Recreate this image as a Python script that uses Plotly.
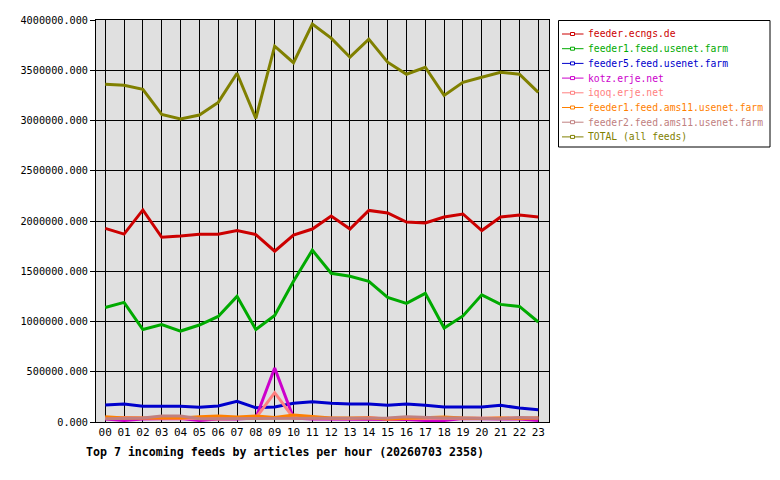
import plotly.graph_objects as go

hours = [f"{h:02d}" for h in range(24)]

feeder_ecngs = [1927000, 1870000, 2110000, 1838000, 1850000, 1868000, 1868000, 1905000, 1865000, 1700000,
                1860000, 1920000, 2050000, 1920000, 2105000, 2080000, 1990000, 1980000, 2040000, 2070000,
                1905000, 2040000, 2060000, 2040000]
feeder1_usenet = [1140000, 1190000, 920000, 970000, 905000, 965000, 1050000, 1250000, 920000, 1060000,
                  1400000, 1710000, 1480000, 1450000, 1400000, 1240000, 1180000, 1280000, 935000, 1055000,
                  1265000, 1170000, 1150000, 995000]
feeder5_usenet = [169000, 179000, 156000, 156000, 156000, 146000, 159000, 206000, 142000, 149000,
                  186000, 202000, 186000, 179000, 179000, 166000, 179000, 166000, 149000, 149000,
                  149000, 166000, 139000, 122000]
kotz_erje = [30000, 15000, 30000, 35000, 35000, 15000, 30000, 30000, 40000, 537000,
             40000, 30000, 30000, 30000, 30000, 30000, 25000, 15000, 15000, 35000,
             30000, 30000, 30000, 15000]
iqoq_erje = [40000, 45000, 40000, 40000, 40000, 35000, 30000, 35000, 40000, 292000,
             40000, 40000, 35000, 35000, 45000, 30000, 35000, 35000, 40000, 35000,
             35000, 35000, 40000, 40000]
feeder1_ams11 = [53000, 40000, 40000, 40000, 40000, 53000, 60000, 50000, 60000, 45000,
                 70000, 55000, 40000, 40000, 40000, 30000, 35000, 45000, 50000, 40000,
                 35000, 40000, 35000, 40000]
feeder2_ams11 = [33000, 33000, 40000, 60000, 60000, 33000, 33000, 33000, 33000, 33000,
                 33000, 33000, 33000, 33000, 33000, 40000, 53000, 45000, 40000, 40000,
                 33000, 33000, 45000, 40000]
total = [3360000, 3350000, 3310000, 3060000, 3015000, 3055000, 3180000, 3470000, 3020000, 3740000,
         3575000, 3960000, 3820000, 3630000, 3810000, 3580000, 3460000, 3530000, 3250000, 3380000,
         3430000, 3480000, 3460000, 3280000]

names = ["feeder.ecngs.de", "feeder1.feed.usenet.farm", "feeder5.feed.usenet.farm", "kotz.erje.net",
         "iqoq.erje.net", "feeder1.feed.ams11.usenet.farm", "feeder2.feed.ams11.usenet.farm",
         "TOTAL (all feeds)"]
series = [feeder_ecngs, feeder1_usenet, feeder5_usenet, kotz_erje, iqoq_erje, feeder1_ams11, feeder2_ams11, total]
colors = ["#cc0000", "#00aa00", "#0000cc", "#cc00cc", "#ff8080", "#ff8000", "#c08080", "#808000"]

y_ticks = [i * 500000 for i in range(9)]
y_ticktext = [f"{v:.3f}" for v in y_ticks]

MONO = "DejaVu Sans Mono"
W, H = 780, 480
L, R, T, B = 96, 549, 20, 422

fig = go.Figure()
xs = list(range(24))
for name, vals, c in zip(names, series, colors):
    fig.add_trace(go.Scatter(x=xs, y=vals, mode="lines", name=name,
                             line=dict(color=c, width=3), showlegend=False))

def px_x(p):
    return (p - L) / (R - L)

def px_y(p):
    return (B - p) / (B - T)

shapes = []
annotations = []
# legend box
shapes.append(dict(type="rect", xref="paper", yref="paper",
                   x0=px_x(558.5), x1=px_x(770), y0=px_y(147), y1=px_y(20.5),
                   line=dict(color="black", width=1), fillcolor="white", layer="above"))
for i, (name, c) in enumerate(zip(names, colors)):
    yc = 34 + i * 14.7
    shapes.append(dict(type="line", xref="paper", yref="paper",
                       x0=px_x(562), x1=px_x(583.5), y0=px_y(yc), y1=px_y(yc),
                       line=dict(color=c, width=1), layer="above"))
    shapes.append(dict(type="rect", xref="paper", yref="paper",
                       x0=px_x(570.5), x1=px_x(574.5), y0=px_y(yc + 1.5), y1=px_y(yc - 1.5),
                       line=dict(color=c, width=1), fillcolor="white", layer="above"))
    annotations.append(dict(xref="paper", yref="paper", x=px_x(586), y=px_y(yc),
                            xanchor="left", yanchor="middle", showarrow=False, text=name,
                            font=dict(family=MONO, size=9.7, color=c)))

annotations.append(dict(xref="paper", yref="paper", x=px_x(84), y=px_y(452),
                        xanchor="left", yanchor="middle", showarrow=False,
                        text="<b>Top 7 incoming feeds by articles per hour (20260703 2358)</b>",
                        font=dict(family=MONO, size=11.6, color="black")))

fig.update_layout(
    width=W, height=H,
    margin=dict(l=L, r=W - R, t=T, b=H - B, pad=0),
    paper_bgcolor="white", plot_bgcolor="#e0e0e0",
    font=dict(family=MONO, size=10, color="black"),
    shapes=shapes, annotations=annotations, showlegend=False,
)
fig.update_xaxes(range=[-0.49, 23.57], tickmode="array", tickvals=xs, ticktext=hours,
                 showgrid=True, gridcolor="black", gridwidth=1, zeroline=False,
                 showline=True, linecolor="black", linewidth=1, mirror=True,
                 ticks="", tickfont=dict(family=MONO, size=11))
fig.update_yaxes(range=[0, 4000000], tickmode="array", tickvals=y_ticks, ticktext=y_ticktext,
                 showgrid=True, gridcolor="black", gridwidth=1, zeroline=False,
                 showline=True, linecolor="black", linewidth=1, mirror=True,
                 ticks="outside", ticklen=5, tickcolor="black",
                 tickfont=dict(family=MONO, size=10.2))

fig.write_html("out.html")
